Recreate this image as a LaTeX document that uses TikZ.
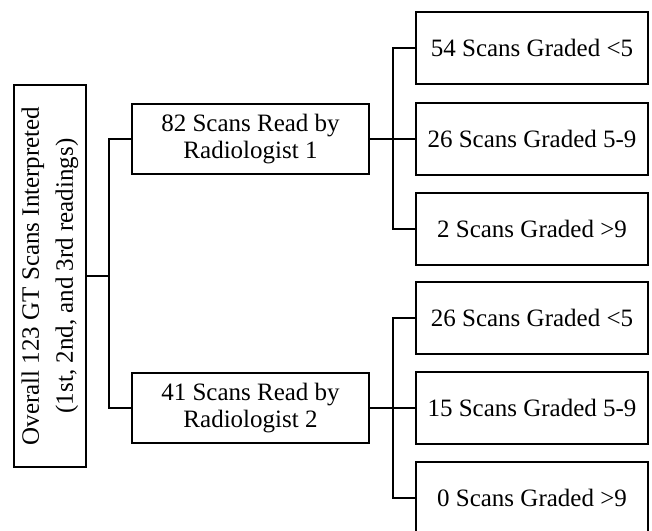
\documentclass[tikz,border=0pt]{standalone}
\usepackage{fontspec}
\setmainfont{Liberation Serif}
\begin{document}
\begin{tikzpicture}[x=1pt,y=-1pt,
  box/.style={draw=black,line width=2.6pt,fill=white,inner sep=0pt,align=center,
    font=\fontsize{25}{27}\selectfont},
  leaf/.style={box,minimum width=232pt,minimum height=72pt},
  mid/.style={box,minimum width=237pt,minimum height=70pt},
  conn/.style={line width=1.8pt,line join=miter}]
\useasboundingbox (0,0) rectangle (652,530);
\fill[white] (0,0) rectangle (652,530);
\node[box,minimum width=72pt,minimum height=382pt] (root) at (50,276) {};
\node[rotate=90,align=center,font=\fontsize{25}{34}\selectfont] (roottext) at (root.center) {Overall 123 GT Scans Interpreted\\(1st, 2nd, and 3rd readings)};
\node[mid] (r1) at (250.5,139) {82 Scans Read by\\Radiologist 1};
\node[mid] (r2) at (250.5,408) {41 Scans Read by\\Radiologist 2};
\node[leaf] (a1) at (532,48) {54 Scans Graded <5};
\node[leaf] (a2) at (532,139) {26 Scans Graded 5-9};
\node[leaf] (a3) at (532,229) {2 Scans Graded >9};
\node[leaf] (b1) at (532,318) {26 Scans Graded <5};
\node[leaf] (b2) at (532,408) {15 Scans Graded 5-9};
\node[leaf] (b3) at (532,498) {0 Scans Graded >9};
\coordinate (j0) at (109,276);
\coordinate (j1) at (393,139);
\coordinate (j2) at (393,408);
\draw[conn] (root.east) -- (j0);
\draw[conn] (j0) |- (r1.west);
\draw[conn] (j0) |- (r2.west);
\draw[conn] (r1.east) -- (a2.west);
\draw[conn] (j1) |- (a1.west);
\draw[conn] (j1) |- (a3.west);
\draw[conn] (r2.east) -- (b2.west);
\draw[conn] (j2) |- (b1.west);
\draw[conn] (j2) |- (b3.west);
\end{tikzpicture}
\end{document}
